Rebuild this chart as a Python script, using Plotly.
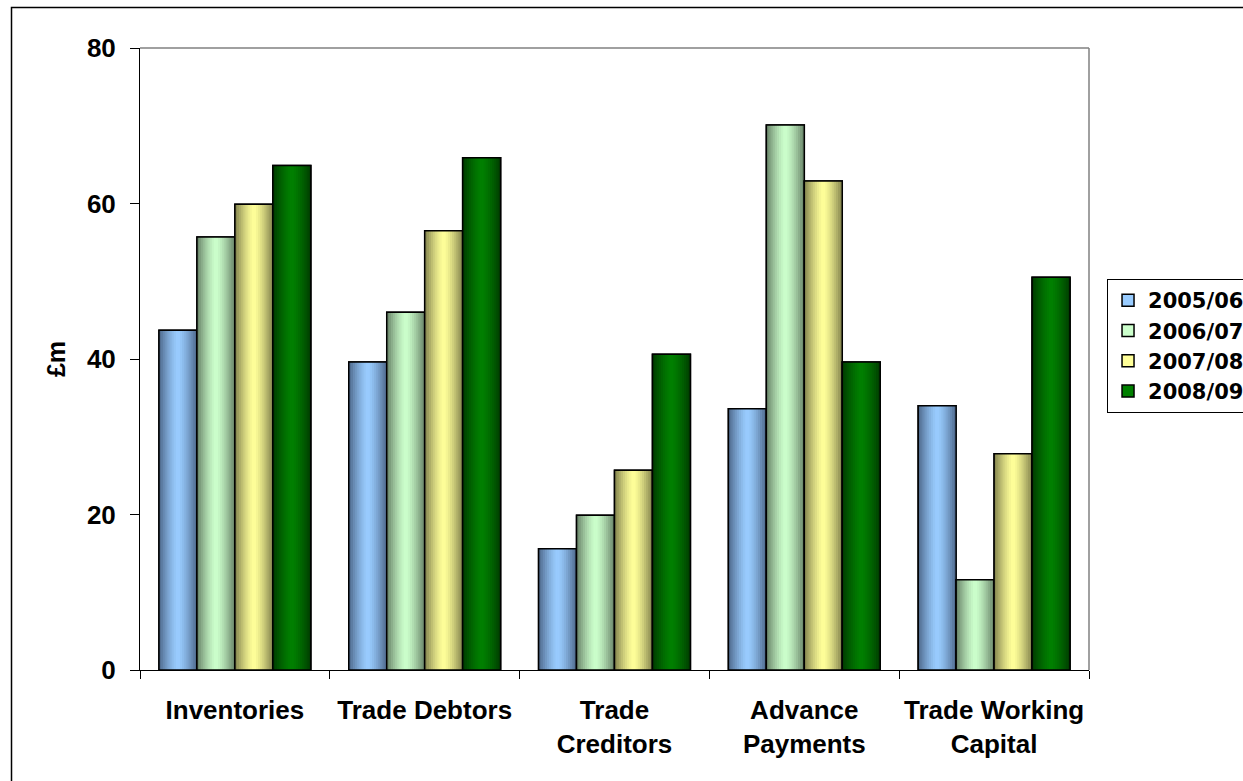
import numpy as np
import plotly.graph_objects as go

# Working capital components, £m
categories = ["Inventories", "Trade Debtors", "Trade<br>Creditors",
              "Advance<br>Payments", "Trade Working<br>Capital"]
years = ["2005/06", "2006/07", "2007/08", "2008/09"]
v_2005_06 = [43.7, 39.6, 15.6, 33.6, 34.0]
v_2006_07 = [55.7, 46.0, 19.9, 70.1, 11.6]
v_2007_08 = [59.9, 56.5, 25.7, 62.9, 27.8]
v_2008_09 = [64.9, 65.9, 40.6, 39.6, 50.5]
series = [v_2005_06, v_2006_07, v_2007_08, v_2008_09]

# (edge colour, centre colour) for the cylinder-style shading of each series
shades = [
    ((0x4C, 0x66, 0x88), (0x99, 0xCC, 0xFF)),
    ((0x66, 0x80, 0x66), (0xCC, 0xFF, 0xCC)),
    ((0x80, 0x80, 0x4C), (0xFF, 0xFF, 0x99)),
    ((0x00, 0x3A, 0x00), (0x00, 0x80, 0x00)),
]

FONT = "Liberation Sans, Arial, sans-serif"
LEGEND_FONT = "DejaVu Sans, Liberation Sans, sans-serif"
BAR_W = 0.2          # width of one bar, in category units
GROUP_START = -0.4   # left edge of the first bar relative to the category centre
STRIPS = 18          # colour bands per bar


def shade(edge, centre, t):
    f = 1.0 - abs(2.0 * t - 1.0) ** 1.4
    r, g, b = (int(round(e + (c - e) * f)) for e, c in zip(edge, centre))
    return f"rgb({r},{g},{b})"


fig = go.Figure()
x_idx = list(range(len(categories)))

for i, (name, vals) in enumerate(zip(years, series)):
    edge, centre = shades[i]
    base = GROUP_START + i * BAR_W
    # solid base bar (also provides the legend swatch)
    fig.add_trace(go.Bar(
        x=x_idx, y=vals, name=name, offset=base, width=BAR_W,
        marker=dict(color=f"rgb{centre}", line=dict(color="black", width=1.5)),
        showlegend=True, hoverinfo="skip",
    ))
    # shading bands, each covering from its left edge to the bar's right edge
    for k in range(STRIPS):
        t = (k + 0.5) / STRIPS
        fig.add_trace(go.Bar(
            x=x_idx, y=vals, offset=base + k * BAR_W / STRIPS,
            width=BAR_W - k * BAR_W / STRIPS,
            marker=dict(color=shade(edge, centre, t), line=dict(width=0)),
            showlegend=False, hoverinfo="skip",
        ))
    # outline on top
    fig.add_trace(go.Bar(
        x=x_idx, y=vals, offset=base, width=BAR_W,
        marker=dict(color="rgba(0,0,0,0)", line=dict(color="black", width=1.5)),
        showlegend=False, hoverinfo="skip",
    ))

# plot-area frame (top and right edges) and outer chart border
fig.add_shape(type="line", xref="paper", yref="paper", x0=0, x1=1, y0=1, y1=1,
              line=dict(color="#808080", width=1.5), layer="below")
fig.add_shape(type="line", xref="paper", yref="paper", x0=1, x1=1, y0=0, y1=1,
              line=dict(color="#808080", width=1.5), layer="below")
fig.add_shape(type="rect", xref="paper", yref="paper",
              x0=-0.1354, x1=1.2, y0=-0.25, y1=1.0651,
              line=dict(color="black", width=1.5), layer="below")

fig.update_layout(
    width=1243, height=781,
    margin=dict(l=140, r=154, t=48, b=111, autoexpand=False),
    paper_bgcolor="white", plot_bgcolor="white",
    barmode="overlay",
    font=dict(family=FONT, size=26, color="black"),
    showlegend=True,
    legend=dict(
        x=1.019, y=0.6286, xanchor="left", yanchor="top",
        bordercolor="black", borderwidth=1, bgcolor="white",
        font=dict(family=LEGEND_FONT, size=21, color="black", weight="bold"),
        tracegroupgap=0,
    ),
    xaxis=dict(
        type="linear", range=[-0.5, len(categories) - 0.5],
        tickmode="array", tickvals=x_idx, ticktext=[f"<b>{c}</b>" for c in categories],
        showline=True, linecolor="black", linewidth=1,
        ticks="", showgrid=False, zeroline=False,
        tickfont=dict(family=FONT, size=26, color="black"),
        ticklabelstandoff=17,
    ),
    xaxis2=dict(
        overlaying="x", matches="x", range=[-0.5, len(categories) - 0.5],
        tickmode="array", tickvals=[c - 0.5 for c in x_idx] + [len(categories) - 0.5],
        ticktext=[""] * (len(categories) + 1),
        ticks="outside", ticklen=8, tickcolor="black", tickwidth=1,
        showline=False, showgrid=False, zeroline=False, side="bottom",
    ),
    yaxis=dict(
        range=[0, 80], dtick=20, tick0=0,
        showline=True, linecolor="black", linewidth=1,
        ticks="outside", ticklen=9, tickcolor="black", tickwidth=1,
        showgrid=False, zeroline=False,
        tickfont=dict(family=FONT, size=26, color="black", weight="bold"),
        ticklabelstandoff=9,
        title=dict(text="<b>£m</b>", font=dict(family=FONT, size=25, color="black"),
                   standoff=14),
    ),
)

# invisible trace to display the boundary ticks on the secondary x axis
fig.add_trace(go.Scatter(x=[None], y=[None], xaxis="x2", showlegend=False,
                         hoverinfo="skip"))

fig.write_html("out.html")
